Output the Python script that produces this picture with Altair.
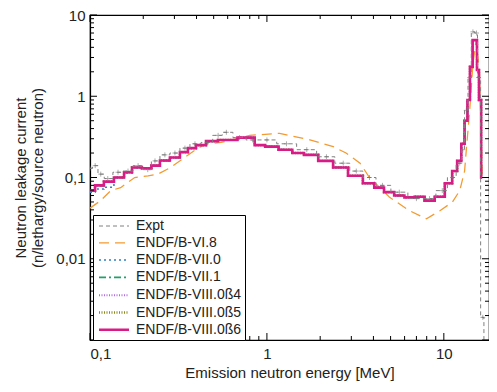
import altair as alt
import pandas as pd

# ---------------- data ----------------
SERIES = ["Expt", "ENDF/B-VI.8", "ENDF/B-VII.0", "ENDF/B-VII.1",
          "ENDF/B-VIII.0ß4", "ENDF/B-VIII.0ß5", "ENDF/B-VIII.0ß6"]
COLORS = ["#808080", "#f39a30", "#2f7fc1", "#22a06b", "#b56ce0", "#8c8a1f", "#d81b86"]
DASHES = [[4, 3], [10, 6], [2, 3], [7, 3, 2, 3], [1, 1.5], [1, 1.5], [1, 0]]
WIDTHS = [1.0, 2.6, 1.8, 1.8, 1.2, 1.2, 2.4]

# Expt
E_EXPT = [0.1, 0.107, 0.115, 0.126, 0.144, 0.164, 0.187, 0.212, 0.233, 0.265, 0.302,
          0.344, 0.392, 0.46, 0.53, 0.59, 0.70, 0.83, 1.0, 1.29, 1.68, 2.17, 2.7, 3.2,
          3.8, 4.5, 5.6, 7.0, 8.3, 9.8, 11.2, 12.3, 12.8, 13.4, 14.0, 14.6, 15.3, 15.7,
          16.6, 17.1]
V_EXPT = [0.13, 0.14, 0.11, 0.097, 0.116, 0.12, 0.14, 0.125, 0.16, 0.19, 0.20,
          0.23, 0.26, 0.27, 0.33, 0.36, 0.31, 0.29, 0.29, 0.26, 0.22, 0.18, 0.15, 0.12,
          0.10, 0.08, 0.066, 0.055, 0.055, 0.069, 0.10, 0.15, 0.22, 0.67, 1.7, 6.2, 6.0, 1.7,
          0.0019, 0.0003]

# ENDF/B-VI.8
E_VI8 = [0.1, 0.115, 0.131, 0.149, 0.179, 0.213, 0.242, 0.286, 0.344, 0.407, 0.46, 0.55,
         0.80, 1.18, 1.75, 2.37, 2.8, 3.36, 3.8, 4.94, 6.4, 7.98, 9.5, 11.2, 12.3, 13.1,
         13.4, 14.0, 14.6, 15.2, 15.9, 16.5]
V_VI8 = [0.042, 0.052, 0.069, 0.075, 0.10, 0.105, 0.11, 0.133, 0.177, 0.23, 0.26, 0.27,
         0.33, 0.35, 0.29, 0.24, 0.2, 0.15, 0.1, 0.057, 0.039, 0.031, 0.039, 0.05, 0.069, 0.12,
         0.22, 0.67, 2.5, 4.8, 2.0, 0.1]

# common energy grid of the evaluated (histogram) libraries
E_LIB = [0.1, 0.114, 0.126, 0.148, 0.164, 0.182, 0.212, 0.233, 0.265, 0.302, 0.344, 0.372,
         0.424, 0.483, 0.58, 0.80, 0.91, 1.05, 1.29, 1.5, 1.75, 2.17, 2.58, 3.2, 3.8, 4.3,
         4.9, 5.6, 6.4, 7.3, 8.3, 9.5, 10.8, 11.5, 12.3, 12.8, 13.4, 13.8, 14.3, 14.8, 15.2,
         15.6, 16.0, 16.5]
V_VII0 = [0.066, 0.072, 0.076, 0.10, 0.114, 0.132, 0.13, 0.14, 0.16, 0.175, 0.204, 0.228,
          0.25, 0.28, 0.29, 0.31, 0.25, 0.24, 0.22, 0.20, 0.19, 0.16, 0.133, 0.105, 0.085,
          0.075, 0.066, 0.06, 0.057, 0.058, 0.052, 0.058, 0.085, 0.12, 0.16, 0.26, 0.5, 0.9,
          2.3, 4.9, 4.9, 2.1, 0.9, 0.1]
V_VII1 = [0.068, 0.079, 0.088, 0.10, 0.115, 0.133, 0.13, 0.14, 0.161, 0.176, 0.205, 0.23,
          0.25, 0.28, 0.29, 0.31, 0.25, 0.24, 0.22, 0.20, 0.19, 0.16, 0.133, 0.105, 0.085,
          0.075, 0.066, 0.06, 0.057, 0.058, 0.052, 0.058, 0.085, 0.12, 0.16, 0.26, 0.5, 0.9,
          2.3, 4.9, 4.9, 2.1, 0.9, 0.1]
V_B4 = [0.069, 0.080, 0.089, 0.10, 0.116, 0.133, 0.13, 0.14, 0.162, 0.176, 0.205, 0.23,
        0.25, 0.28, 0.29, 0.31, 0.25, 0.24, 0.22, 0.20, 0.19, 0.16, 0.133, 0.105, 0.085,
        0.075, 0.066, 0.06, 0.057, 0.058, 0.052, 0.058, 0.085, 0.12, 0.16, 0.26, 0.5, 0.9,
        2.3, 4.9, 4.9, 2.1, 0.9, 0.1]
V_B5 = [0.069, 0.080, 0.089, 0.10, 0.116, 0.133, 0.13, 0.14, 0.162, 0.176, 0.205, 0.23,
        0.25, 0.28, 0.29, 0.31, 0.25, 0.24, 0.22, 0.20, 0.19, 0.16, 0.133, 0.105, 0.085,
        0.075, 0.066, 0.06, 0.057, 0.058, 0.052, 0.058, 0.085, 0.12, 0.16, 0.26, 0.5, 0.9,
        2.3, 4.9, 4.9, 2.1, 0.9, 0.1]
V_B6 = [0.069, 0.080, 0.089, 0.10, 0.116, 0.133, 0.13, 0.14, 0.162, 0.176, 0.205, 0.23,
        0.25, 0.28, 0.29, 0.31, 0.25, 0.24, 0.22, 0.20, 0.19, 0.16, 0.133, 0.105, 0.085,
        0.075, 0.066, 0.06, 0.057, 0.058, 0.052, 0.058, 0.085, 0.12, 0.16, 0.26, 0.5, 0.9,
        2.3, 4.9, 4.9, 2.1, 0.9, 0.1]

X_MAJOR = [0.1, 1, 10]
X_MINOR = [0.2, 0.3, 0.4, 0.5, 0.6, 0.7, 0.8, 0.9, 2, 3, 4, 5, 6, 7, 8, 9]
Y_MAJOR = [0.001, 0.01, 0.1, 1, 10]
Y_LABELS = [0.01, 0.1, 1, 10]
Y_MINOR = [m * d for d in [0.001, 0.01, 0.1, 1] for m in range(2, 10)]

# ---------------- chart ----------------
W, H = 399, 325
FONT = "Liberation Sans"
TXT = "#222"
xscale = alt.Scale(type="log", domain=[0.1, 18], nice=False)
yscale = alt.Scale(type="log", domain=[0.001, 10], nice=False)

def frame(name, e, v):
    return pd.DataFrame({"E": e, "v": v, "series": name})

color_enc = alt.Color("series:N", scale=alt.Scale(domain=SERIES, range=COLORS),
                      legend=alt.Legend(orient="none", legendX=3, legendY=200, title=None,
                                        symbolType="M-2,0H2", symbolSize=225,
                                        symbolOffset=9,
                                        labelFont=FONT, labelFontSize=14, labelColor=TXT,
                                        strokeColor="black", fillColor="white", padding=3,
                                        rowPadding=1.3, labelOffset=13))
dash_enc = alt.StrokeDash("series:N", scale=alt.Scale(domain=SERIES, range=DASHES), legend=None)
width_enc = alt.StrokeWidth("series:N", scale=alt.Scale(domain=SERIES, range=WIDTHS), legend=None)

xax = alt.Axis(values=X_MAJOR, format="~g", labelExpr="replace(datum.label, '.', ',')",
               ticks=False, grid=False, domainColor="black", labelFont=FONT, labelFontSize=15,
               labelColor=TXT, labelPadding=6, title="Emission neutron energy [MeV]",
               titleFont=FONT, titleFontSize=15, titleFontWeight="normal", titleColor=TXT,
               titlePadding=4)
yax = alt.Axis(values=Y_LABELS, format="~g", labelExpr="replace(datum.label, '.', ',')",
               ticks=False, grid=False, domainColor="black", labelFont=FONT, labelFontSize=15,
               labelColor=TXT, labelPadding=5,
               title=["Neutron leakage current", "(n/lethargy/source neutron)"],
               titleFont=FONT, titleFontSize=15, titleFontWeight="normal", titleColor=TXT,
               titlePadding=10)

XE = lambda f: alt.X(f, scale=xscale, axis=xax)
YE = lambda f: alt.Y(f, scale=yscale, axis=yax)

def line_layer(df, interp):
    return alt.Chart(df).mark_line(interpolate=interp, clip=True).encode(
        x=XE("E:Q"), y=YE("v:Q"),
        color=color_enc, strokeDash=dash_enc, strokeWidth=width_enc)

layers = [
    line_layer(frame(SERIES[1], E_VI8, V_VI8), "linear"),
    line_layer(frame(SERIES[2], E_LIB, V_VII0), "step"),
    line_layer(frame(SERIES[3], E_LIB, V_VII1), "step"),
    line_layer(frame(SERIES[4], E_LIB, V_B4), "step"),
    line_layer(frame(SERIES[5], E_LIB, V_B5), "step"),
    line_layer(frame(SERIES[6], E_LIB, V_B6), "step"),
    line_layer(frame(SERIES[0], E_EXPT, V_EXPT), "step"),
]

expt_pts = alt.Chart(frame(SERIES[0], E_EXPT, V_EXPT)).mark_point(
    shape="M-1,0H1M0,-1V1", size=25, filled=False, color="#707070", strokeWidth=0.8, clip=True
).encode(x=XE("E:Q"), y=YE("v:Q"))
layers.append(expt_pts)

xmaj = pd.DataFrame({"E": X_MAJOR})
xmin = pd.DataFrame({"E": X_MINOR})
ymaj = pd.DataFrame({"v": Y_MAJOR})
ymin = pd.DataFrame({"v": Y_MINOR})

def xticks(df, length):
    return [
        alt.Chart(df).mark_rule(color="black", strokeWidth=1).encode(
            x=XE("E:Q"), y=alt.value(H), y2=alt.value(H - length)),
        alt.Chart(df).mark_rule(color="black", strokeWidth=1).encode(
            x=XE("E:Q"), y=alt.value(0), y2=alt.value(length)),
    ]

def yticks(df, length):
    return [
        alt.Chart(df).mark_rule(color="black", strokeWidth=1).encode(
            y=YE("v:Q"), x=alt.value(0), x2=alt.value(length)),
        alt.Chart(df).mark_rule(color="black", strokeWidth=1).encode(
            y=YE("v:Q"), x=alt.value(W), x2=alt.value(W - length)),
    ]

layers += xticks(xmaj, 7) + xticks(xmin, 4) + yticks(ymaj, 7) + yticks(ymin, 4)

chart = alt.layer(*layers).properties(
    width=W, height=H,
    padding={"left": 82, "top": 7, "right": 0, "bottom": 44},
    autosize=alt.AutoSizeParams(type="none"),
).configure_view(stroke="black", strokeWidth=1.2).configure_axis(domainWidth=1.2)

chart.save("out.html", embed_options={"renderer": "svg", "actions": False})
